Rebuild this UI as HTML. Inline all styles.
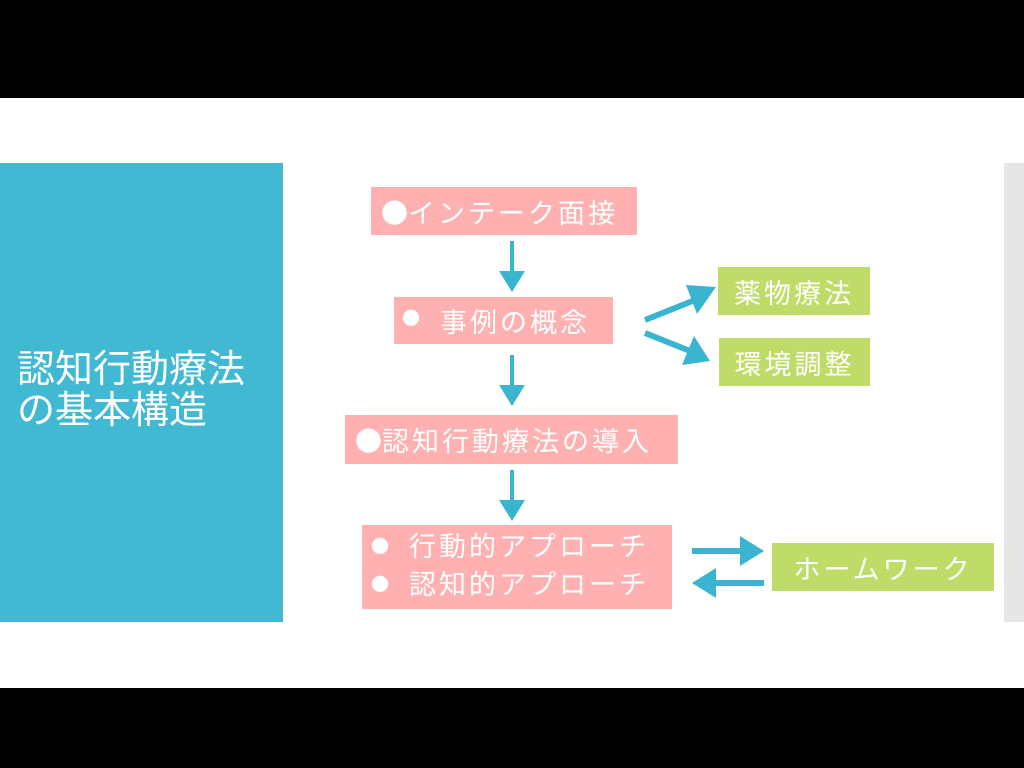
<!DOCTYPE html>
<html><head><meta charset="utf-8"><style>
body{margin:0;width:1024px;height:768px;background:#fff;position:relative;overflow:hidden;font-family:"Liberation Sans","Noto Sans CJK JP",sans-serif;}
.blk{position:absolute;left:0;width:1024px;background:#000}
.b{position:absolute;color:#fff;font-size:27px;letter-spacing:3px;display:flex;align-items:center;white-space:nowrap;box-sizing:border-box}
.p{background:#ffb1b1}.g{background:#bfdc68}
.d{font-family:"Noto Sans CJK JP",sans-serif;letter-spacing:0}
.s{font-family:"Noto Sans CJK JP",sans-serif;letter-spacing:0;font-size:18px;display:inline-block;width:38px;vertical-align:middle;position:relative;top:-3px}
</style></head><body>
<div class="blk" style="top:0;height:98px"></div>
<div class="blk" style="top:688px;height:80px"></div>
<div style="position:absolute;left:0;top:163px;width:283px;height:459px;background:#41b9d2"></div>
<div style="position:absolute;left:17px;top:350px;color:#fff;font-size:38px;line-height:41px;">認知行動療法<br>の基本構造</div>
<div style="position:absolute;left:1004px;top:163px;width:20px;height:459px;background:#e6e6e6"></div>

<div class="b p" style="left:371px;top:187px;width:266px;height:48px;padding-left:10px"><span class="d">●</span>インテーク面接</div>
<div class="b p" style="left:394px;top:297px;width:219px;height:47px;padding-left:8px"><span class="s">●</span>事例の概念</div>
<div class="b p" style="left:345px;top:415px;width:333px;height:49px;padding-left:10px"><span class="d">●</span>認知行動療法の導入</div>
<div class="b p" style="left:362px;top:525px;width:310px;height:84px;padding-left:9px;line-height:36px"><div><span class="s">●</span>行動的アプローチ<br><span class="s">●</span>認知的アプローチ</div></div>
<div class="b g" style="left:718px;top:267px;width:152px;height:48px;justify-content:center">薬物療法</div>
<div class="b g" style="left:719px;top:338px;width:151px;height:48px;justify-content:center">環境調整</div>
<div class="b g" style="left:772px;top:543px;width:222px;height:48px;justify-content:center">ホームワーク</div>

<svg width="1024" height="768" style="position:absolute;left:0;top:0">
<g fill="#3bb5cf" stroke="none">
<rect x="510" y="241" width="4" height="32"/><polygon points="499,271 525,271 512,292"/>
<rect x="510" y="355" width="4" height="32"/><polygon points="499,385 525,385 512,406"/>
<rect x="510" y="470" width="4" height="32"/><polygon points="499,500 525,500 512,521"/>
<rect x="692" y="548" width="50" height="6"/><polygon points="740,536 764,551 740,566"/>
<rect x="716" y="580" width="48" height="6"/><polygon points="716,568 692,583 716,598"/>
</g>
<g stroke="#3bb5cf" stroke-width="6">
<line x1="645" y1="320" x2="695" y2="300"/>
<line x1="645" y1="333" x2="690" y2="351"/>
</g>
<g fill="#3bb5cf">
<polygon points="716,287 686,285 697,314"/>
<polygon points="710,361 682,365 694,336"/>
</g>
</svg>
</body></html>
